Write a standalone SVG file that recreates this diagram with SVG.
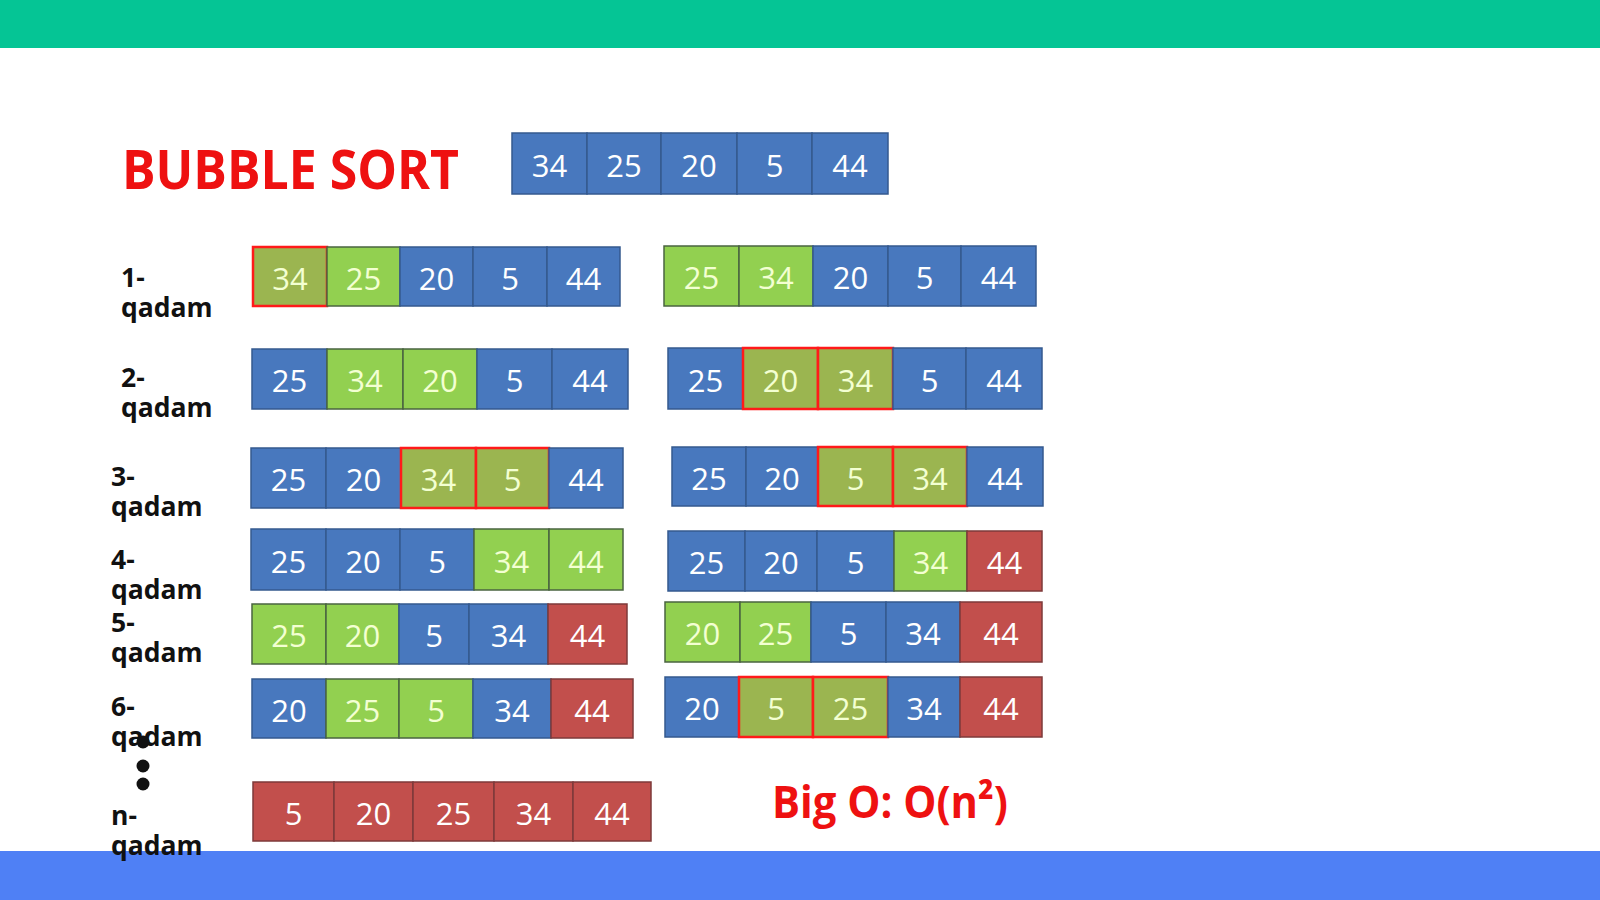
<svg xmlns="http://www.w3.org/2000/svg" width="1600" height="900" viewBox="0 0 1600 900">
<style>
.b{fill:#4878BE;stroke:#34598F;stroke-width:1.5}
.g{fill:#92D050;stroke:#4A6440;stroke-width:1.5}
.o{fill:#9BB550;stroke:#FF1A1A;stroke-width:2.5}
.r{fill:#C24F4C;stroke:#7E3A3A;stroke-width:1.5}
.n{font-family:"Open Sans","Noto Sans",sans-serif;font-size:31px;text-anchor:middle}
.w{fill:#FFFFFF}
.l{fill:#F3FFD2}
.lab{font-family:"Open Sans","Noto Sans",sans-serif;font-weight:bold;font-size:26.5px;fill:#111111}
.red{font-family:"Open Sans","Noto Sans",sans-serif;font-weight:bold;fill:#EE1111}
</style>
<rect x="0" y="0" width="1600" height="900" fill="#FFFFFF"/>
<rect x="0" y="0" width="1600" height="48" fill="#05C595"/>
<rect x="0" y="851" width="1600" height="49" fill="#4F80F5"/>

<text class="red" x="122" y="189" font-size="54" textLength="337" lengthAdjust="spacingAndGlyphs">BUBBLE SORT</text>
<text class="red" x="772" y="818" font-size="45" textLength="236" lengthAdjust="spacingAndGlyphs">Big O: O(n²)</text>

<g id="labels">
<text class="lab" x="121" y="287">1-</text><text class="lab" x="121" y="317">qadam</text>
<text class="lab" x="121" y="387">2-</text><text class="lab" x="121" y="417">qadam</text>
<text class="lab" x="111" y="486">3-</text><text class="lab" x="111" y="516">qadam</text>
<text class="lab" x="111" y="569">4-</text><text class="lab" x="111" y="599">qadam</text>
<text class="lab" x="111" y="632">5-</text><text class="lab" x="111" y="662">qadam</text>
<text class="lab" x="111" y="716">6-</text><text class="lab" x="111" y="746">qadam</text>
<text class="lab" x="111" y="825">n-</text><text class="lab" x="111" y="855">qadam</text>
</g>
<g id="dots" fill="#111111">
<circle cx="143" cy="742" r="6.5"/>
<circle cx="143" cy="766" r="6.5"/>
<circle cx="143" cy="784" r="6.5"/>
</g>

<g id="start">
<g id="s1"><rect class="b" x="512" y="133" width="75" height="61"/><text class="n w" x="549.5" y="177">34</text></g>
<g id="s2"><rect class="b" x="587" y="133" width="74" height="61"/><text class="n w" x="624" y="177">25</text></g>
<g id="s3"><rect class="b" x="661" y="133" width="76" height="61"/><text class="n w" x="699" y="177">20</text></g>
<g id="s4"><rect class="b" x="737" y="133" width="75" height="61"/><text class="n w" x="774.5" y="177">5</text></g>
<g id="s5"><rect class="b" x="812" y="133" width="76" height="61"/><text class="n w" x="850" y="177">44</text></g>
</g>

<g id="row1-left">
<g id="r1l1"><rect class="o" x="253" y="247" width="74" height="59"/><text class="n l" x="290" y="290">34</text></g>
<g id="r1l2"><rect class="g" x="327" y="247" width="73" height="59"/><text class="n l" x="363.5" y="290">25</text></g>
<g id="r1l3"><rect class="b" x="400" y="247" width="73" height="59"/><text class="n w" x="436.5" y="290">20</text></g>
<g id="r1l4"><rect class="b" x="473" y="247" width="74" height="59"/><text class="n w" x="510" y="290">5</text></g>
<g id="r1l5"><rect class="b" x="547" y="247" width="73" height="59"/><text class="n w" x="583.5" y="290">44</text></g>
</g>
<g id="row1-right">
<g id="r1r1"><rect class="g" x="664" y="246" width="75" height="60"/><text class="n l" x="701.5" y="289">25</text></g>
<g id="r1r2"><rect class="g" x="739" y="246" width="74" height="60"/><text class="n l" x="776" y="289">34</text></g>
<g id="r1r3"><rect class="b" x="813" y="246" width="75" height="60"/><text class="n w" x="850.5" y="289">20</text></g>
<g id="r1r4"><rect class="b" x="888" y="246" width="73" height="60"/><text class="n w" x="924.5" y="289">5</text></g>
<g id="r1r5"><rect class="b" x="961" y="246" width="75" height="60"/><text class="n w" x="998.5" y="289">44</text></g>
</g>

<g id="row2-left">
<g id="r2l1"><rect class="b" x="252" y="349" width="75" height="60"/><text class="n w" x="289.5" y="392">25</text></g>
<g id="r2l2"><rect class="g" x="327" y="349" width="76" height="60"/><text class="n l" x="365" y="392">34</text></g>
<g id="r2l3"><rect class="g" x="403" y="349" width="74" height="60"/><text class="n l" x="440" y="392">20</text></g>
<g id="r2l4"><rect class="b" x="477" y="349" width="75" height="60"/><text class="n w" x="514.5" y="392">5</text></g>
<g id="r2l5"><rect class="b" x="552" y="349" width="76" height="60"/><text class="n w" x="590" y="392">44</text></g>
</g>
<g id="row2-right">
<g id="r2r1"><rect class="b" x="668" y="348" width="75" height="61"/><text class="n w" x="705.5" y="392">25</text></g>
<g id="r2r2"><rect class="o" x="743" y="348" width="75" height="61"/><text class="n l" x="780.5" y="392">20</text></g>
<g id="r2r3"><rect class="o" x="818" y="348" width="75" height="61"/><text class="n l" x="855.5" y="392">34</text></g>
<g id="r2r4"><rect class="b" x="893" y="348" width="73" height="61"/><text class="n w" x="929.5" y="392">5</text></g>
<g id="r2r5"><rect class="b" x="966" y="348" width="76" height="61"/><text class="n w" x="1004" y="392">44</text></g>
</g>

<g id="row3-left">
<g id="r3l1"><rect class="b" x="251" y="448" width="75" height="60"/><text class="n w" x="288.5" y="491">25</text></g>
<g id="r3l2"><rect class="b" x="326" y="448" width="75" height="60"/><text class="n w" x="363.5" y="491">20</text></g>
<g id="r3l3"><rect class="o" x="401" y="448" width="75" height="60"/><text class="n l" x="438.5" y="491">34</text></g>
<g id="r3l4"><rect class="o" x="476" y="448" width="73" height="60"/><text class="n l" x="512.5" y="491">5</text></g>
<g id="r3l5"><rect class="b" x="549" y="448" width="74" height="60"/><text class="n w" x="586" y="491">44</text></g>
</g>
<g id="row3-right">
<g id="r3r1"><rect class="b" x="672" y="447" width="74" height="59"/><text class="n w" x="709" y="490">25</text></g>
<g id="r3r2"><rect class="b" x="746" y="447" width="72" height="59"/><text class="n w" x="782" y="490">20</text></g>
<g id="r3r3"><rect class="o" x="818" y="447" width="75" height="59"/><text class="n l" x="855.5" y="490">5</text></g>
<g id="r3r4"><rect class="o" x="893" y="447" width="74" height="59"/><text class="n l" x="930" y="490">34</text></g>
<g id="r3r5"><rect class="b" x="967" y="447" width="76" height="59"/><text class="n w" x="1005" y="490">44</text></g>
</g>

<g id="row4-left">
<g id="r4l1"><rect class="b" x="251" y="529" width="75" height="61"/><text class="n w" x="288.5" y="573">25</text></g>
<g id="r4l2"><rect class="b" x="326" y="529" width="74" height="61"/><text class="n w" x="363" y="573">20</text></g>
<g id="r4l3"><rect class="b" x="400" y="529" width="74" height="61"/><text class="n w" x="437" y="573">5</text></g>
<g id="r4l4"><rect class="g" x="474" y="529" width="75" height="61"/><text class="n l" x="511.5" y="573">34</text></g>
<g id="r4l5"><rect class="g" x="549" y="529" width="74" height="61"/><text class="n l" x="586" y="573">44</text></g>
</g>
<g id="row4-right">
<g id="r4r1"><rect class="b" x="668" y="531" width="77" height="60"/><text class="n w" x="706.5" y="574">25</text></g>
<g id="r4r2"><rect class="b" x="745" y="531" width="72" height="60"/><text class="n w" x="781" y="574">20</text></g>
<g id="r4r3"><rect class="b" x="817" y="531" width="77" height="60"/><text class="n w" x="855.5" y="574">5</text></g>
<g id="r4r4"><rect class="g" x="894" y="531" width="73" height="60"/><text class="n l" x="930.5" y="574">34</text></g>
<g id="r4r5"><rect class="r" x="967" y="531" width="75" height="60"/><text class="n w" x="1004.5" y="574">44</text></g>
</g>

<g id="row5-left">
<g id="r5l1"><rect class="g" x="252" y="604" width="74" height="60"/><text class="n l" x="289" y="647">25</text></g>
<g id="r5l2"><rect class="g" x="326" y="604" width="73" height="60"/><text class="n l" x="362.5" y="647">20</text></g>
<g id="r5l3"><rect class="b" x="399" y="604" width="70" height="60"/><text class="n w" x="434" y="647">5</text></g>
<g id="r5l4"><rect class="b" x="469" y="604" width="79" height="60"/><text class="n w" x="508.5" y="647">34</text></g>
<g id="r5l5"><rect class="r" x="548" y="604" width="79" height="60"/><text class="n w" x="587.5" y="647">44</text></g>
</g>
<g id="row5-right">
<g id="r5r1"><rect class="g" x="665" y="602" width="75" height="60"/><text class="n l" x="702.5" y="645">20</text></g>
<g id="r5r2"><rect class="g" x="740" y="602" width="71" height="60"/><text class="n l" x="775.5" y="645">25</text></g>
<g id="r5r3"><rect class="b" x="811" y="602" width="75" height="60"/><text class="n w" x="848.5" y="645">5</text></g>
<g id="r5r4"><rect class="b" x="886" y="602" width="74" height="60"/><text class="n w" x="923" y="645">34</text></g>
<g id="r5r5"><rect class="r" x="960" y="602" width="82" height="60"/><text class="n w" x="1001" y="645">44</text></g>
</g>

<g id="row6-left">
<g id="r6l1"><rect class="b" x="252" y="679" width="74" height="59"/><text class="n w" x="289" y="722">20</text></g>
<g id="r6l2"><rect class="g" x="326" y="679" width="73" height="59"/><text class="n l" x="362.5" y="722">25</text></g>
<g id="r6l3"><rect class="g" x="399" y="679" width="74" height="59"/><text class="n l" x="436" y="722">5</text></g>
<g id="r6l4"><rect class="b" x="473" y="679" width="78" height="59"/><text class="n w" x="512" y="722">34</text></g>
<g id="r6l5"><rect class="r" x="551" y="679" width="82" height="59"/><text class="n w" x="592" y="722">44</text></g>
</g>
<g id="row6-right">
<g id="r6r1"><rect class="b" x="665" y="677" width="74" height="60"/><text class="n w" x="702" y="720">20</text></g>
<g id="r6r2"><rect class="o" x="739" y="677" width="74" height="60"/><text class="n l" x="776" y="720">5</text></g>
<g id="r6r3"><rect class="o" x="813" y="677" width="75" height="60"/><text class="n l" x="850.5" y="720">25</text></g>
<g id="r6r4"><rect class="b" x="888" y="677" width="72" height="60"/><text class="n w" x="924" y="720">34</text></g>
<g id="r6r5"><rect class="r" x="960" y="677" width="82" height="60"/><text class="n w" x="1001" y="720">44</text></g>
</g>

<g id="row-n">
<g id="rn1"><rect class="r" x="253" y="782" width="81" height="59"/><text class="n w" x="293.5" y="825">5</text></g>
<g id="rn2"><rect class="r" x="334" y="782" width="79" height="59"/><text class="n w" x="373.5" y="825">20</text></g>
<g id="rn3"><rect class="r" x="413" y="782" width="81" height="59"/><text class="n w" x="453.5" y="825">25</text></g>
<g id="rn4"><rect class="r" x="494" y="782" width="79" height="59"/><text class="n w" x="533.5" y="825">34</text></g>
<g id="rn5"><rect class="r" x="573" y="782" width="78" height="59"/><text class="n w" x="612" y="825">44</text></g>
</g>
<g id="connectors"></g>
</svg>
